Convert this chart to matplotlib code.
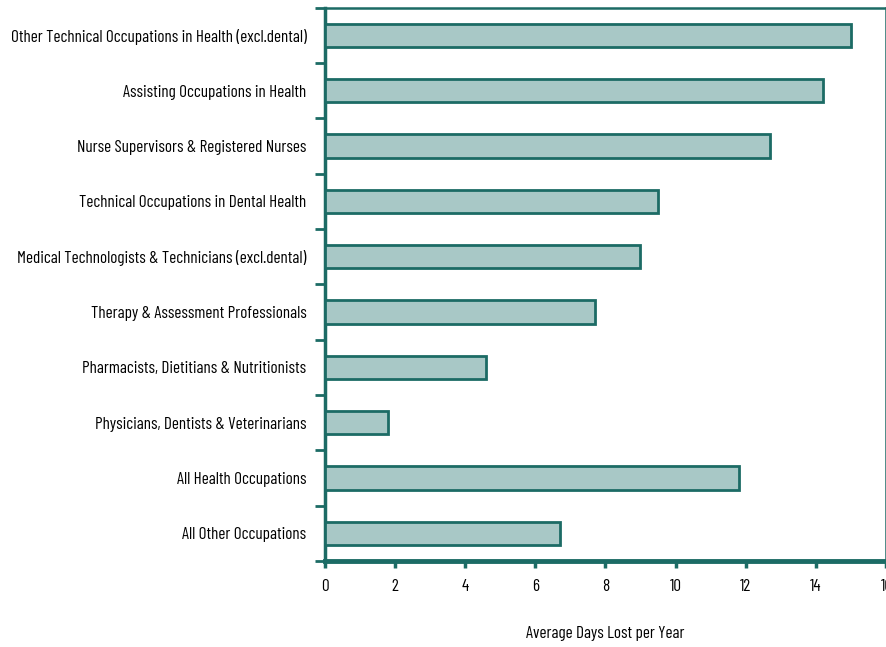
import matplotlib
matplotlib.use('Agg')
import matplotlib.pyplot as plt
import numpy as np

# ── 데이터 ──
categories = [
    'Other Technical Occupations in Health (excl.dental)',
    'Assisting Occupations in Health',
    'Nurse Supervisors & Registered Nurses',
    'Technical Occupations in Dental Health',
    'Medical Technologists & Technicians (excl.dental)',
    'Therapy & Assessment Professionals',
    'Pharmacists, Dietitians & Nutritionists',
    'Physicians, Dentists & Veterinarians',
    'All Health Occupations',
    'All Other Occupations',
]
days_lost = [15.0, 14.2, 12.7, 9.5, 9.0, 7.7, 4.6, 1.8, 11.8, 6.7]
x_ticks = [0, 2, 4, 6, 8, 10, 12, 14, 16]

TEAL = '#1C6B65'
FILL = '#A8C8C6'

plt.rcParams['font.family'] = ['Barlow Condensed', 'DejaVu Sans']

fig = plt.figure(figsize=(8.87, 6.47), dpi=100)
ax = fig.add_axes([0.366, 0.133, 0.633, 0.855])

y = np.arange(len(categories))
ax.barh(y, days_lost, height=0.42, color=FILL, edgecolor=TEAL, linewidth=2, zorder=3)

ax.set_ylim(len(categories) - 0.5, -0.5)
ax.set_xlim(0, 16)

# y축: 눈금은 범주 경계, 레이블은 중앙
ax.set_yticks(np.arange(-0.5, len(categories)), minor=False)
ax.set_yticklabels([])
ax.set_yticks(y, minor=True)
ax.set_yticklabels(categories, minor=True, fontsize=12.3)
ax.tick_params(axis='y', which='major', direction='out', length=7, width=2, color=TEAL)
ax.tick_params(axis='y', which='minor', length=0, pad=13)

ax.set_xticks(x_ticks)
ax.set_xticklabels([str(t) for t in x_ticks], fontsize=12.3)
ax.tick_params(axis='x', direction='out', length=5, width=2.5, color=TEAL, pad=8)

ax.set_xlabel('Average Days Lost per Year', fontsize=12.3, labelpad=23)

for side in ['left', 'right', 'top', 'bottom']:
    ax.spines[side].set_color(TEAL)
ax.spines['left'].set_linewidth(2.5)
ax.spines['bottom'].set_linewidth(3.5)
ax.spines['right'].set_linewidth(1.8)
ax.spines['top'].set_linewidth(1.8)

fig.savefig('out.png', dpi=100, facecolor='white')
